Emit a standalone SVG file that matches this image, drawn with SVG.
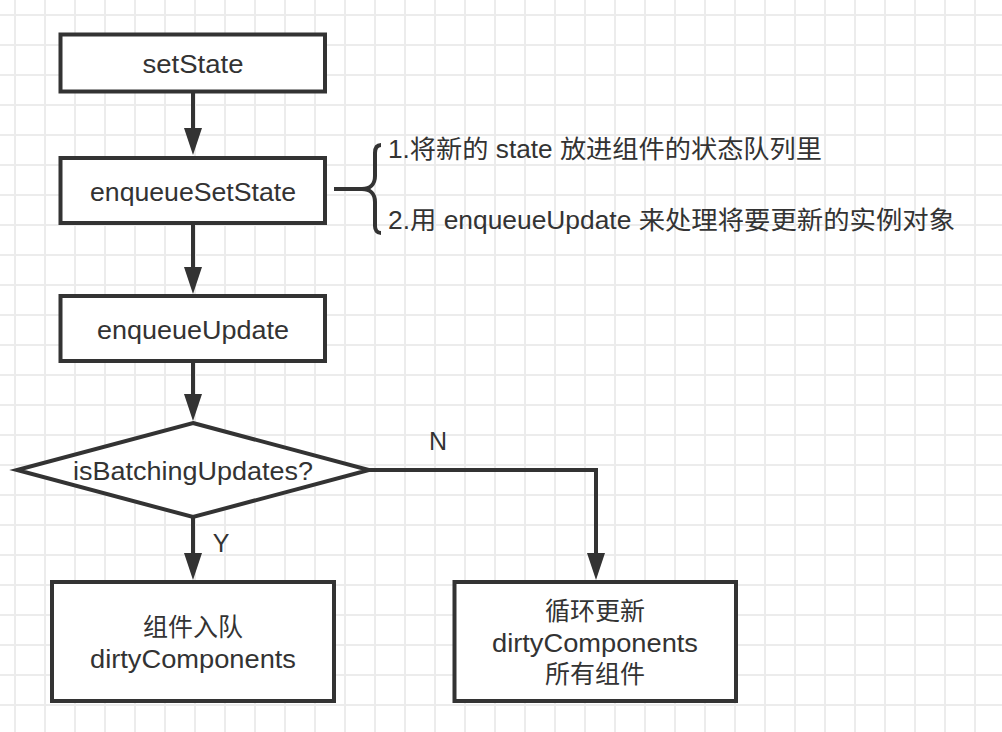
<svg xmlns="http://www.w3.org/2000/svg" width="1002" height="732" viewBox="0 0 1002 732">
  <style>
    .box { fill: #ffffff; stroke: #333333; stroke-width: 4; }
    .edge { fill: none; stroke: #333333; stroke-width: 4; }
    .t { font-family: "Liberation Sans", "Noto Sans CJK SC", sans-serif; font-size: 25px; fill: #333333; }
    .m { text-anchor: middle; }
  </style>
  <defs>
    <pattern id="grid" x="0" y="0" width="30" height="30" patternUnits="userSpaceOnUse">
      <path d="M15 0V30M0 15H30" stroke="#ececec" stroke-width="2" fill="none"/>
    </pattern>
    <marker id="arrow" markerUnits="userSpaceOnUse" viewBox="0 0 27 18" markerWidth="27" markerHeight="18" refX="1" refY="9" orient="auto">
      <path d="M0,0 L27,9 L0,18 Z" fill="#333333"/>
    </marker>
  </defs>
  <rect x="0" y="0" width="1002" height="732" fill="#ffffff"/>
  <rect x="0" y="0" width="1002" height="732" fill="url(#grid)"/>

  <g id="connectors">
    <path class="edge" d="M193,93 V129" marker-end="url(#arrow)"/>
    <path class="edge" d="M193,225 V268" marker-end="url(#arrow)"/>
    <path class="edge" d="M193,363 V395" marker-end="url(#arrow)"/>
    <path class="edge" d="M193,517 V554" marker-end="url(#arrow)"/>
    <path class="edge" d="M369,470 H596 V554" marker-end="url(#arrow)"/>
    <text class="t m" x="221" y="552">Y</text>
    <text class="t m" x="438" y="450">N</text>
  </g>

  <g id="node-setState">
    <rect class="box" x="60.5" y="34.5" width="264.5" height="57"/>
    <text class="t m" x="193" y="73" textLength="101" lengthAdjust="spacingAndGlyphs">setState</text>
  </g>

  <g id="node-enqueueSetState">
    <rect class="box" x="60.5" y="158" width="264.5" height="65"/>
    <text class="t m" x="193" y="201" textLength="206" lengthAdjust="spacingAndGlyphs">enqueueSetState</text>
  </g>

  <g id="node-brace">
    <path class="edge" d="M334,189 H362 C370,189 375,184 375,176 V153 C375,148 377,145 381,145"/>
    <path class="edge" d="M362,189 C370,189 375,194 375,202 V226 C375,230 377,233 381,233"/>
    <text class="t" x="388" y="158" textLength="434" lengthAdjust="spacingAndGlyphs">1.将新的 state 放进组件的状态队列里</text>
    <text class="t" x="388" y="229" textLength="567" lengthAdjust="spacingAndGlyphs">2.用 enqueueUpdate 来处理将要更新的实例对象</text>
  </g>

  <g id="node-enqueueUpdate">
    <rect class="box" x="60.5" y="296" width="264.5" height="65"/>
    <text class="t m" x="193" y="339" textLength="192" lengthAdjust="spacingAndGlyphs">enqueueUpdate</text>
  </g>

  <g id="node-isBatchingUpdates">
    <polygon class="box" points="193,423 369,470 193,517 17,470"/>
    <text class="t m" x="193" y="480" textLength="240" lengthAdjust="spacingAndGlyphs">isBatchingUpdates?</text>
  </g>

  <g id="node-enqueue-dirty">
    <rect class="box" x="52" y="582" width="282" height="119"/>
    <text class="t m" x="193" y="636">组件入队</text>
    <text class="t m" x="193" y="668" textLength="206" lengthAdjust="spacingAndGlyphs">dirtyComponents</text>
  </g>

  <g id="node-update-all">
    <rect class="box" x="454.5" y="582" width="281.5" height="119"/>
    <text class="t m" x="595" y="620">循环更新</text>
    <text class="t m" x="595" y="652" textLength="206" lengthAdjust="spacingAndGlyphs">dirtyComponents</text>
    <text class="t m" x="595" y="683">所有组件</text>
  </g>
</svg>
